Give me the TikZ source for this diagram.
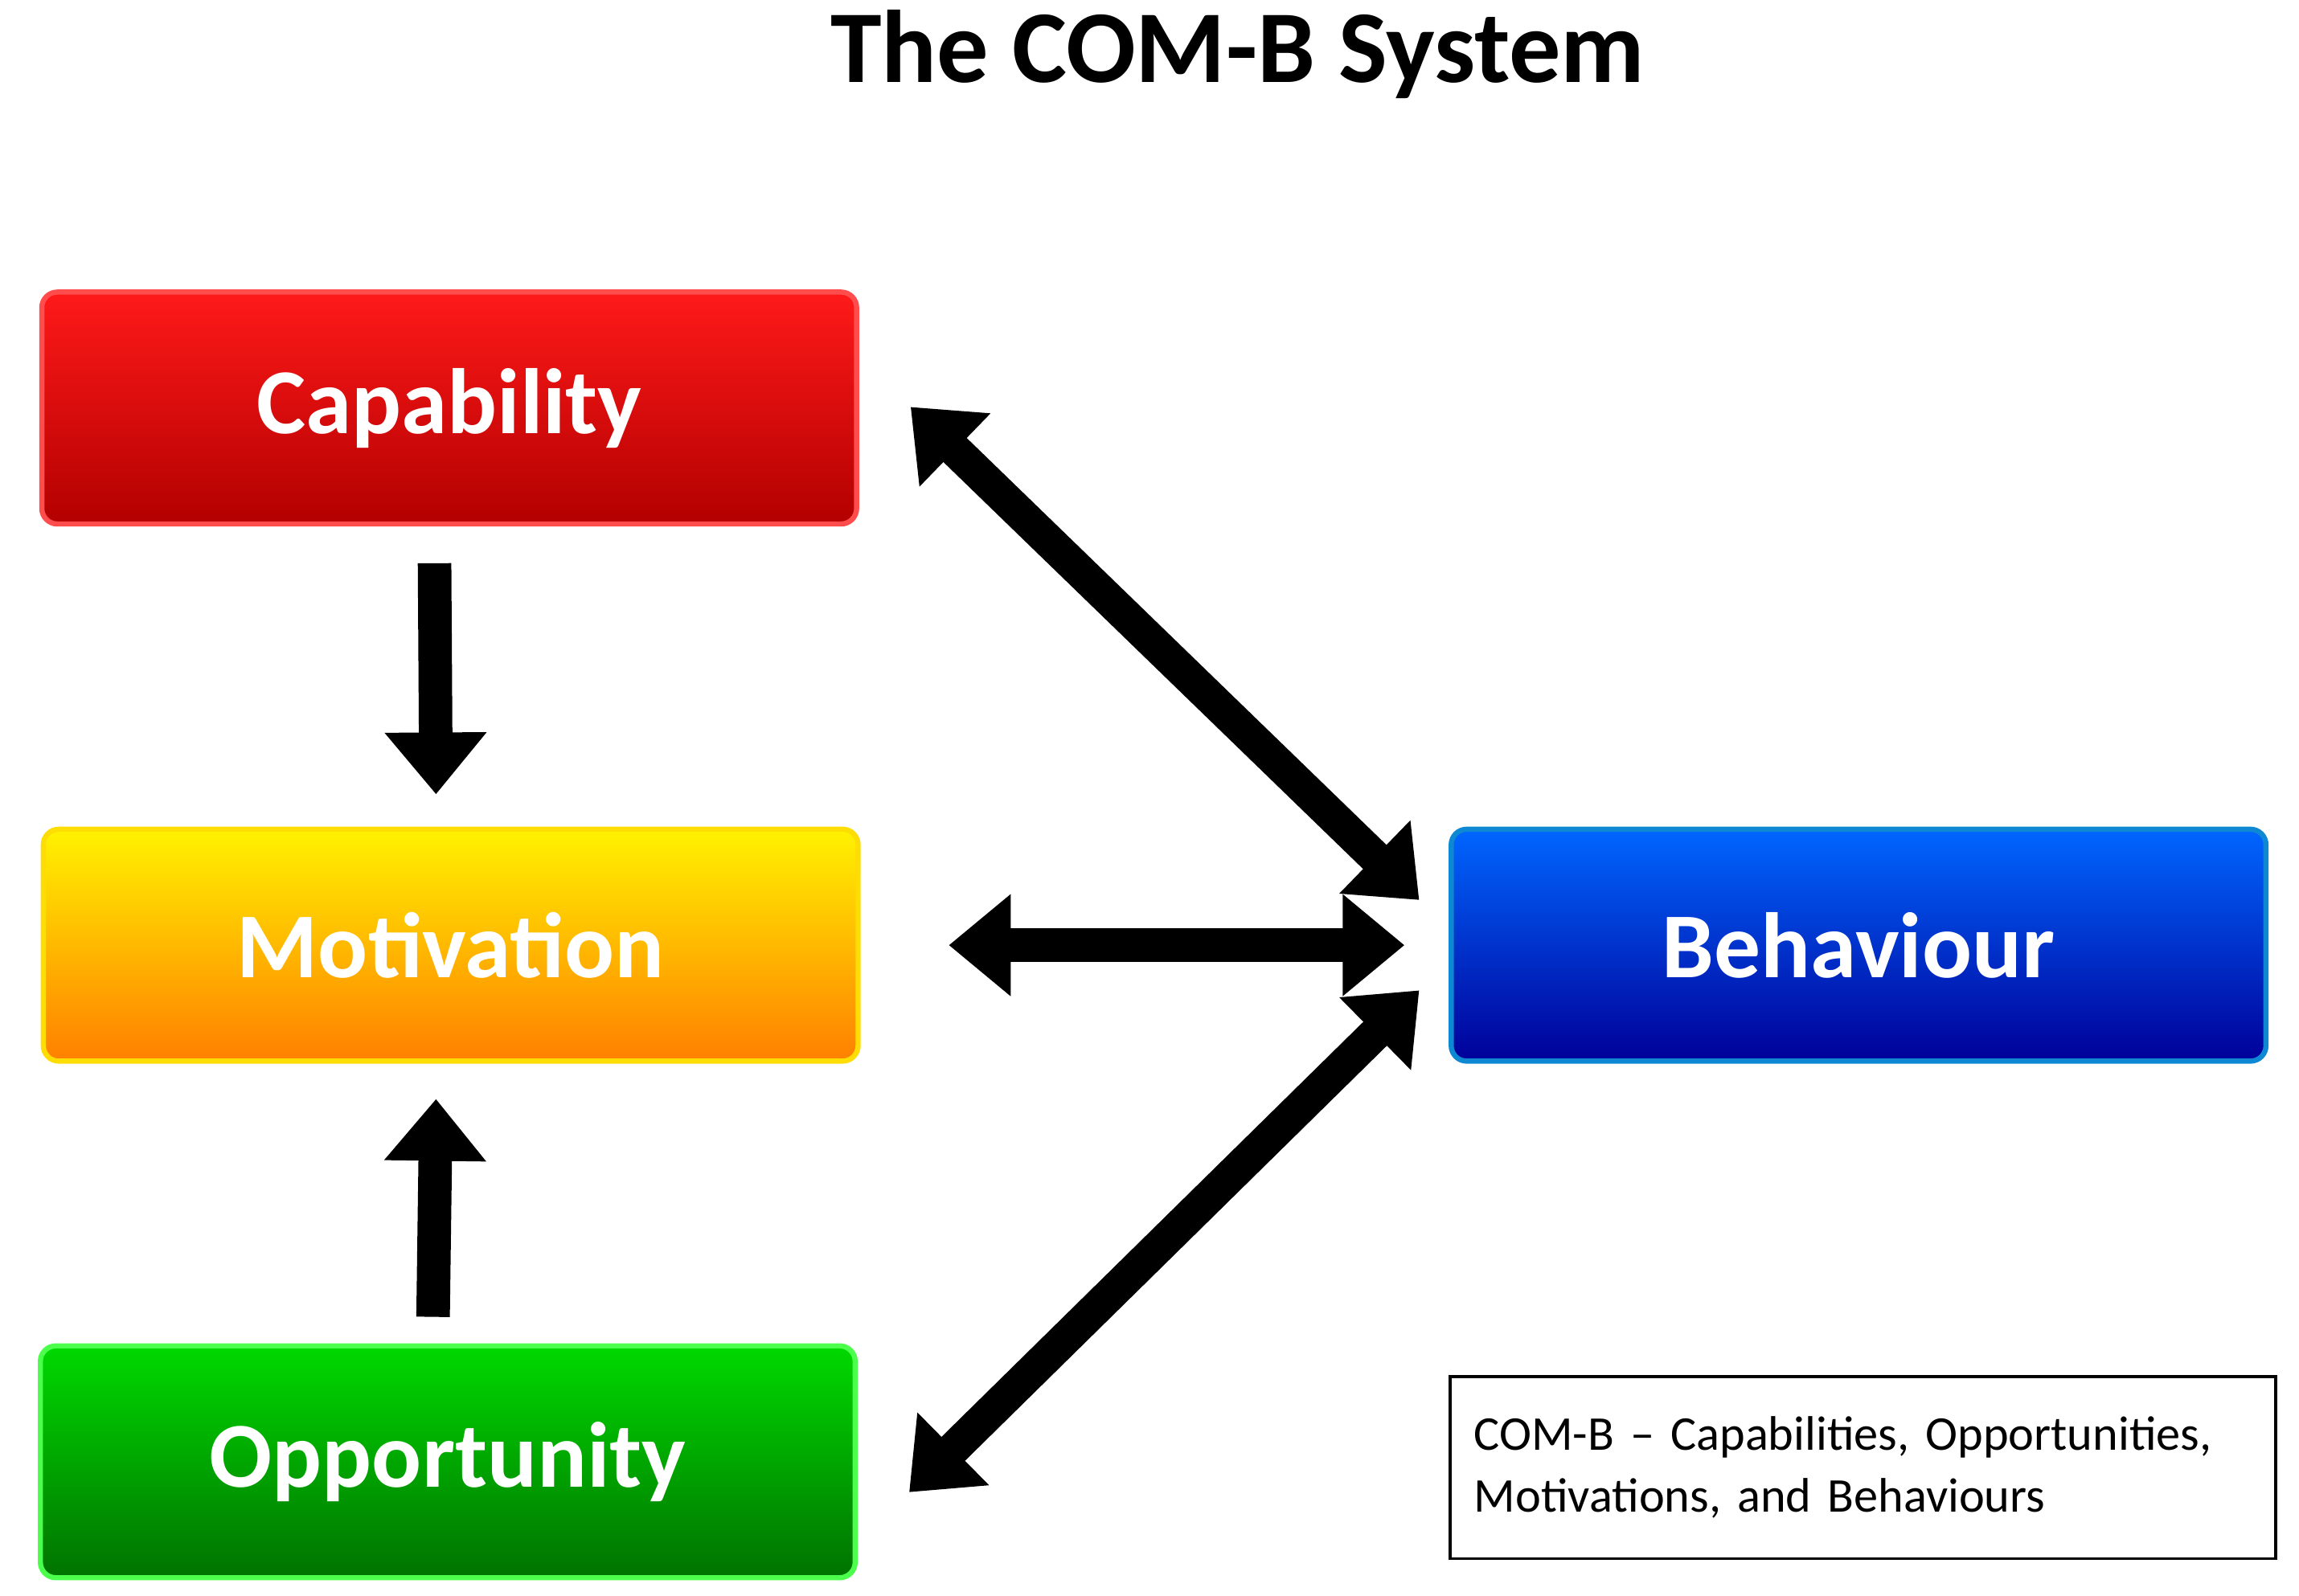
\documentclass[tikz,border=0pt]{standalone}
\usepackage{fontspec}
\setmainfont{Carlito}
\usetikzlibrary{arrows.meta,positioning}
\tikzset{
    factor/.style={rounded corners=3pt, minimum width=5.55cm, minimum height=1.58cm,
        text=white, font=\bfseries\fontsize{18}{22}\selectfont, draw=#1!70!white, line width=1pt},
    bigarrow/.style={line width=6.5pt, -{Triangle[length=12pt,width=19pt]}},
    botharrow/.style={line width=6.5pt, {Triangle[length=12pt,width=19pt]}-{Triangle[length=12pt,width=19pt]}},
}
\begin{document}
\begin{tikzpicture}
    \useasboundingbox (0,0) rectangle (15.66,10.87);
    \node[font=\bfseries\fontsize{20}{24}\selectfont] (title) at (8.43,10.50) {The COM-B System};

    \node[factor=red, top color=red!90!white, bottom color=red!70!black] (C) at (3.06,8.09) {Capability};
    \node[factor=orange, top color=yellow!90!orange, bottom color=orange, draw=yellow!80!orange] (M) at (3.07,4.43) {Motivation};
    \node[factor=green, top color=green!85!black, bottom color=green!45!black] (O) at (3.05,0.91) {Opportunity};
    \node[factor=blue, top color=blue!60!cyan, bottom color=blue!60!black, draw=cyan!70!blue] (B) at (12.66,4.43) {Behaviour};

    \node[draw, line width=0.6pt, minimum width=5.62cm, minimum height=1.24cm, align=left,
        font=\fontsize{9.4}{12}\selectfont, text width=5.3cm] (note) at (12.69,0.87)
        {COM-B -- Capabilities, Opportunities,\\ Motivations, and Behaviours};

    % influences
    \draw[bigarrow] ([xshift=-1mm,yshift=-2.5mm]C.south) -- ([xshift=-1mm,yshift=2.2mm]M.north);
    \draw[bigarrow] ([xshift=-1mm,yshift=1.8mm]O.north) -- ([xshift=-1mm,yshift=-2.4mm]M.south);
    \draw[botharrow] ([xshift=6mm]M.east) -- ([xshift=-3mm]B.west);
    \draw[botharrow] ([xshift=3.5mm,yshift=-0.8cm]C.north east) -- ([xshift=-2mm,yshift=-0.5cm]B.north west);
    \draw[botharrow] ([xshift=3.5mm,yshift=0.6cm]O.south east) -- ([xshift=-2mm,yshift=0.5cm]B.south west);
\end{tikzpicture}
\end{document}
